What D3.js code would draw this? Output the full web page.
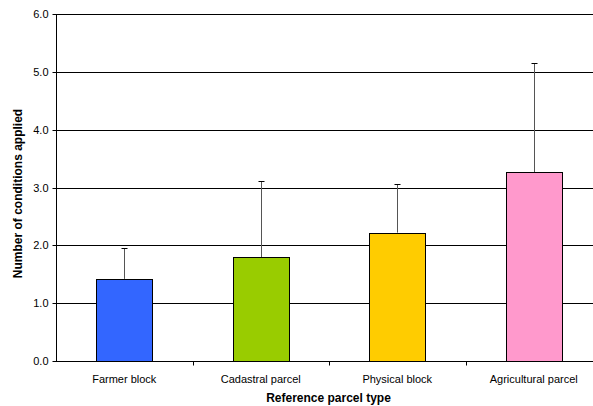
<!DOCTYPE html>
<html><head><meta charset="utf-8">
<script src="https://cdn.jsdelivr.net/npm/d3@7"></script>
<style>html,body{margin:0;padding:0;background:#fff;overflow:hidden}</style>
</head><body>
<svg id="c" width="593" height="406"></svg>
<script>
const categories = ["Farmer block", "Cadastral parcel", "Physical block", "Agricultural parcel"];
const means = [1.42, 1.79, 2.22, 3.26];
const errUpper = [1.96, 3.11, 3.06, 5.15];
const colors = ["#3366FF", "#99CC00", "#FFCC00", "#FF99CC"];
const yTicks = [0, 1, 2, 3, 4, 5, 6];

(function () {
const svg = d3.select("#c");
const L = 56, R = 602, T = 14, B = 361;
const x = d3.scaleBand().domain(categories).range([L, R]).paddingInner(0.59).paddingOuter(0.295);
const y = d3.scaleLinear().domain([0, 6]).range([B, T]);
const font = "Liberation Sans, Arial, sans-serif";

// gridlines
svg.append("g").selectAll("line").data(yTicks.slice(1)).join("line")
  .attr("x1", L).attr("x2", R)
  .attr("y1", d => Math.round(y(d)) + 0.5).attr("y2", d => Math.round(y(d)) + 0.5)
  .attr("stroke", "#000").attr("stroke-width", 1);

// error bars
const eg = svg.append("g");
categories.forEach((c, i) => {
  const cx = Math.round(x(c) + x.bandwidth() / 2) + 0.5;
  eg.append("line").attr("x1", cx).attr("x2", cx)
    .attr("y1", y(means[i])).attr("y2", Math.round(y(errUpper[i])) + 0.5)
    .attr("stroke", "#555").attr("stroke-width", 1);
  eg.append("line").attr("x1", cx - 3).attr("x2", cx + 3)
    .attr("y1", Math.round(y(errUpper[i])) + 0.5).attr("y2", Math.round(y(errUpper[i])) + 0.5)
    .attr("stroke", "#000").attr("stroke-width", 1);
});

// bars
svg.append("g").selectAll("rect").data(categories).join("rect")
  .attr("x", d => Math.round(x(d)) + 0.5)
  .attr("y", (d, i) => Math.round(y(means[i])) + 0.5)
  .attr("width", Math.round(x.bandwidth()))
  .attr("height", (d, i) => Math.round(y(0)) - Math.round(y(means[i])))
  .attr("fill", (d, i) => colors[i])
  .attr("stroke", "#000").attr("stroke-width", 1);

// y axis
const ya = svg.append("g").attr("transform", `translate(${L + 0.5},0)`)
  .call(d3.axisLeft(y).tickValues(yTicks).tickFormat(d3.format(".1f")).tickSize(4).tickPadding(4));
ya.selectAll("path,line").attr("stroke", "#000");
ya.select(".domain").attr("d", `M0,${T}V${B + 0.5}`);
ya.selectAll("text").attr("font-family", font).attr("font-size", 11).attr("fill", "#000");
ya.selectAll(".tick").attr("transform", d => `translate(0,${Math.round(y(d)) + 0.5})`);

// x axis
const xa = svg.append("g").attr("transform", `translate(0,${B + 0.5})`);
xa.append("line").attr("x1", L).attr("x2", R).attr("stroke", "#000");
const bounds = categories.slice(1).map(c => x(c) - x.step() * x.paddingInner() / 2);
xa.selectAll("line.tk").data(bounds).join("line").attr("class", "tk")
  .attr("x1", d => Math.round(d) + 0.5).attr("x2", d => Math.round(d) + 0.5)
  .attr("y1", 0).attr("y2", 4).attr("stroke", "#000");
xa.selectAll("text").data(categories).join("text")
  .attr("x", d => x(d) + x.bandwidth() / 2).attr("y", 21)
  .attr("text-anchor", "middle").attr("font-family", font).attr("font-size", 11)
  .text(d => d);

// titles
svg.append("text").attr("x", (L + 593) / 2 + 4).attr("y", 402)
  .attr("text-anchor", "middle").attr("font-family", font).attr("font-size", 12)
  .attr("font-weight", "bold").text("Reference parcel type");
svg.append("text").attr("transform", `translate(22,${(T + B) / 2 + 6}) rotate(-90)`)
  .attr("text-anchor", "middle").attr("font-family", font).attr("font-size", 12)
  .attr("font-weight", "bold").text("Number of conditions applied");
})();
</script>
</body></html>
